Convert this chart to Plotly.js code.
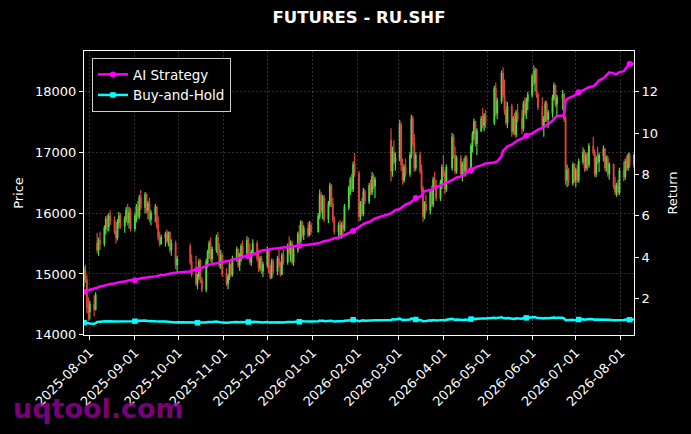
<!DOCTYPE html>
<html>
<head>
<meta charset="utf-8">
<script src="https://cdn.plot.ly/plotly-3.0.1.min.js"></script>
<style>html,body{margin:0;padding:0;background:#000;}#chart{width:691px;height:434px;}</style>
</head>
<body>
<div id="chart"></div>
<script>
const dates = [
'2025-07-28','2025-07-29','2025-07-30','2025-07-31',
'2025-08-01','2025-08-04','2025-08-05','2025-08-06','2025-08-07','2025-08-08','2025-08-11','2025-08-12','2025-08-13','2025-08-14','2025-08-15','2025-08-18','2025-08-19','2025-08-20','2025-08-21','2025-08-22','2025-08-25','2025-08-26','2025-08-27','2025-08-28','2025-08-29',
'2025-09-01','2025-09-02','2025-09-03','2025-09-04','2025-09-05','2025-09-08','2025-09-09','2025-09-10','2025-09-11','2025-09-12','2025-09-15','2025-09-16','2025-09-17','2025-09-18','2025-09-19','2025-09-22','2025-09-23','2025-09-24','2025-09-25','2025-09-26','2025-09-29','2025-09-30',
'2025-10-09','2025-10-10','2025-10-13','2025-10-14','2025-10-15','2025-10-16','2025-10-17','2025-10-20','2025-10-21','2025-10-22','2025-10-23','2025-10-24','2025-10-27','2025-10-28','2025-10-29','2025-10-30','2025-10-31',
'2025-11-03','2025-11-04','2025-11-05','2025-11-06','2025-11-07','2025-11-10','2025-11-11','2025-11-12','2025-11-13','2025-11-14','2025-11-17','2025-11-18','2025-11-19','2025-11-20','2025-11-21','2025-11-24','2025-11-25','2025-11-26','2025-11-27','2025-11-28',
'2025-12-01','2025-12-02','2025-12-03','2025-12-04','2025-12-05','2025-12-08','2025-12-09','2025-12-10','2025-12-11','2025-12-12','2025-12-15','2025-12-16','2025-12-17','2025-12-18','2025-12-19','2025-12-22','2025-12-23','2025-12-24','2025-12-25','2025-12-26','2025-12-29','2025-12-30','2025-12-31',
'2026-01-05','2026-01-06','2026-01-07','2026-01-08','2026-01-09','2026-01-12','2026-01-13','2026-01-14','2026-01-15','2026-01-16','2026-01-19','2026-01-20','2026-01-21','2026-01-22','2026-01-23','2026-01-26','2026-01-27','2026-01-28','2026-01-29','2026-01-30',
'2026-02-02','2026-02-03','2026-02-04','2026-02-05','2026-02-06','2026-02-09','2026-02-10','2026-02-11','2026-02-12','2026-02-13','2026-02-24','2026-02-25','2026-02-26','2026-02-27',
'2026-03-02','2026-03-03','2026-03-04','2026-03-05','2026-03-06','2026-03-09','2026-03-10','2026-03-11','2026-03-12','2026-03-13','2026-03-16','2026-03-17','2026-03-18','2026-03-19','2026-03-20','2026-03-23','2026-03-24','2026-03-25','2026-03-26','2026-03-27','2026-03-30','2026-03-31',
'2026-04-01','2026-04-02','2026-04-03','2026-04-07','2026-04-08','2026-04-09','2026-04-10','2026-04-13','2026-04-14','2026-04-15','2026-04-16','2026-04-17','2026-04-20','2026-04-21','2026-04-22','2026-04-23','2026-04-24','2026-04-27','2026-04-28','2026-04-29','2026-04-30',
'2026-05-06','2026-05-07','2026-05-08','2026-05-11','2026-05-12','2026-05-13','2026-05-14','2026-05-15','2026-05-18','2026-05-19','2026-05-20','2026-05-21','2026-05-22','2026-05-25','2026-05-26','2026-05-27','2026-05-28','2026-05-29',
'2026-06-01','2026-06-02','2026-06-03','2026-06-04','2026-06-05','2026-06-08','2026-06-09','2026-06-10','2026-06-11','2026-06-12','2026-06-15','2026-06-16','2026-06-17','2026-06-18','2026-06-22','2026-06-23','2026-06-24','2026-06-25','2026-06-26','2026-06-29','2026-06-30',
'2026-07-01','2026-07-02','2026-07-03','2026-07-06','2026-07-07','2026-07-08','2026-07-09','2026-07-10','2026-07-13','2026-07-14','2026-07-15','2026-07-16','2026-07-17','2026-07-20','2026-07-21','2026-07-22','2026-07-23','2026-07-24','2026-07-27','2026-07-28','2026-07-29','2026-07-30','2026-07-31',
'2026-08-03','2026-08-04','2026-08-05','2026-08-06','2026-08-07','2026-08-10'
];

const openPrice = [
14900,15050,14900,14450,
14380,14500,14420,15500,15400,15550,15500,15750,15900,15780,15950,15880,15700,15600,15850,15950,15800,15900,16050,15850,16000,
15750,15950,16100,15950,16250,16100,16300,16050,16150,15900,16000,16100,15800,15600,15500,15600,15650,15550,15680,15400,15500,15150,
15450,15200,15000,14850,14950,15200,14900,14750,15200,15350,15500,15250,15400,15600,15350,15150,15300,
15000,14850,14950,15150,15000,15250,15400,15150,15300,15450,15300,15550,15350,15200,15350,15500,15250,15100,15250,15050,
15150,15400,15050,14950,15200,15050,15250,15150,15000,15300,15200,15450,15350,15500,15200,15400,15650,15550,15850,15650,15750,15650,15800,
15700,15950,16300,16050,16250,15900,16150,16450,16150,15900,15700,15800,15650,15800,15750,16100,16400,16550,16400,16800,
16650,15950,16150,16000,16350,16200,16450,16350,16600,16450,17200,16700,17000,16850,
16900,17450,16800,16550,16750,16650,16950,17550,17150,16750,16950,16700,16400,15950,16150,16050,16350,16150,16550,16450,16250,16500,
16750,16650,16400,16750,17250,16950,16700,16900,16650,16800,16700,16900,16700,17100,17300,17500,17150,17350,17550,17450,17600,
17500,18050,17650,17850,18300,17950,17700,17500,17750,17350,17550,17300,17650,17550,17400,17800,17650,17850,
17950,18250,18150,18350,17950,17750,17450,17550,17800,17550,17650,17900,18100,17800,17900,17950,17550,16550,16700,16500,16800,
16550,16700,16550,16850,17000,16750,16950,16800,17100,17000,16650,16900,16850,16950,17050,16750,16900,16650,16800,16450,16350,16450,16350,
16700,16600,16850,16750,16950,16800
];

const highPrice = [
15120,15150,14980,14620,
14560,14650,14700,15680,15600,15700,15800,15950,15980,16000,16050,15950,15850,15900,16020,16000,15950,16100,16150,16100,16080,
16000,16150,16200,16300,16380,16350,16330,16200,16250,16050,16150,16120,15950,15700,15650,15700,15730,15700,15700,15570,15550,15300,
15500,15320,15300,15000,15250,15240,14950,15250,15400,15550,15600,15450,15650,15690,15500,15400,15350,
15100,15000,15190,15200,15300,15450,15420,15350,15500,15550,15620,15600,15500,15400,15570,15550,15400,15300,15300,15200,
15450,15420,15150,15250,15250,15300,15400,15200,15350,15400,15500,15620,15550,15550,15450,15700,15800,15890,15870,15800,15850,15870,15850,
16000,16390,16350,16300,16300,16200,16500,16480,16250,15950,15850,15890,15850,15880,16150,16450,16600,16650,16850,16990,
16700,16200,16250,16420,16400,16500,16550,16680,16650,16600,17400,17100,17200,17000,
17540,17500,16900,16800,16900,17000,17620,17600,17300,17000,17010,16800,16450,16200,16300,16400,16450,16600,16680,16550,16550,16800,
16960,16700,16800,17320,17300,17100,16950,16960,16850,16900,16950,16950,17150,17350,17560,17520,17400,17600,17730,17650,17700,
18100,18150,17900,18350,18400,18200,17850,17830,17800,17600,17650,17700,17800,17700,17850,17910,17900,18000,
18300,18440,18400,18380,18000,17910,17600,17850,17850,17700,17950,18150,18120,17950,18030,17980,17600,16800,16750,16840,16820,
16750,16800,16900,17080,17050,17000,17000,17150,17260,17050,16950,17100,17000,17120,17080,16950,16950,16840,16820,16600,16500,16550,16750,
16850,16900,16950,16990,17000,16980
];

const lowPrice = [
14780,14850,14350,14230,
14250,14300,14400,15340,15300,15400,15450,15650,15700,15700,15800,15650,15500,15550,15750,15750,15680,15850,15800,15750,15700,
15700,15850,15900,15900,16050,16000,16000,15900,15850,15800,15850,15750,15550,15450,15480,15450,15500,15450,15350,15300,15080,15000,
15150,14950,14800,14750,14900,14850,14700,14700,15100,15250,15200,15150,15350,15300,15100,15080,14950,
14800,14750,14900,14950,14960,15200,15100,15050,15200,15250,15250,15300,15150,15130,15300,15200,15030,15050,15000,14950,
15100,15000,14910,14920,15000,14980,15100,14960,14980,15150,15150,15300,15200,15150,15130,15350,15500,15500,15600,15560,15600,15620,15650,
15680,15900,16000,15900,15850,15840,16100,16100,15850,15650,15570,15600,15580,15650,15700,16050,16300,16350,16350,16600,
15860,15880,15950,15950,16150,16150,16300,16300,16400,16250,16520,16600,16800,16700,
16850,16700,16470,16500,16600,16600,16900,17100,16680,16700,16650,16350,15860,15900,16000,15980,16100,16100,16400,16200,16200,16400,
16600,16310,16350,16700,16900,16640,16650,16600,16520,16650,16600,16650,16650,17000,17200,17100,16960,17340,17400,17350,17400,
17450,17600,17550,17800,17900,17620,17450,17400,17260,17300,17280,17240,17500,17300,17350,17600,17550,17700,
17900,18100,18000,17900,17700,17400,17260,17500,17500,17400,17570,17850,17750,17600,17700,17500,16470,16430,16450,16450,16500,
16430,16500,16500,16800,16680,16700,16700,16750,16950,16600,16590,16800,16680,16850,16700,16680,16600,16550,16400,16300,16270,16300,16300,
16520,16550,16700,16700,16750,16750
];

const closePrice = [
15050,14900,14450,14380,
14500,14420,14650,15400,15550,15500,15750,15900,15780,15950,15880,15700,15600,15850,15950,15800,15900,16050,15850,16000,15750,
15950,16100,15950,16250,16100,16300,16050,16150,15900,16000,16100,15800,15600,15500,15600,15650,15550,15680,15400,15500,15150,15250,
15200,15000,14850,14950,15200,14900,14750,15200,15350,15500,15250,15400,15600,15350,15150,15300,15000,
14850,14950,15150,15000,15250,15400,15150,15300,15450,15300,15550,15350,15200,15350,15500,15250,15100,15250,15050,15150,
15400,15050,14950,15200,15050,15250,15150,15000,15300,15200,15450,15350,15500,15200,15400,15650,15550,15850,15650,15750,15650,15800,15700,
15950,16300,16050,16250,15900,16150,16450,16150,15900,15700,15800,15650,15800,15750,16100,16400,16550,16400,16800,16650,
15950,16150,16000,16350,16200,16450,16350,16600,16450,16550,16700,17000,16850,16900,
17450,16800,16550,16750,16650,16950,17550,17150,16750,16950,16700,16400,15950,16150,16050,16350,16150,16550,16450,16250,16500,16750,
16650,16400,16750,17250,16950,16700,16900,16650,16800,16700,16900,16700,17100,17300,17500,17150,17350,17550,17450,17600,17500,
18050,17650,17850,18300,17950,17700,17500,17750,17350,17550,17300,17650,17550,17400,17800,17650,17850,17950,
18250,18150,18350,17950,17750,17450,17550,17800,17550,17650,17900,18100,17800,17900,17950,17550,16550,16700,16500,16800,16550,
16700,16550,16850,17000,16750,16950,16800,17100,17000,16650,16900,16850,16950,17050,16750,16900,16650,16800,16450,16350,16450,16350,16700,
16600,16850,16750,16950,16800,16950
];

const aiReturn = [
2.32,2.33,2.36,2.40,
2.42,2.45,2.47,2.52,2.55,2.58,2.62,2.64,2.66,2.68,2.70,2.72,2.74,2.76,2.78,2.80,2.82,2.84,2.85,2.87,2.89,
2.88,2.92,2.94,2.96,2.98,3.00,3.01,3.03,3.04,3.05,3.07,3.08,3.10,3.12,3.13,3.15,3.17,3.18,3.20,3.22,3.24,3.26,
3.30,3.34,3.40,3.40,3.44,3.46,3.48,3.58,3.62,3.63,3.65,3.66,3.68,3.70,3.72,3.74,3.76,
3.78,3.80,3.82,3.85,3.87,3.90,3.93,3.96,3.98,4.00,4.04,4.06,4.09,4.12,4.15,4.20,4.24,4.27,4.30,4.33,
4.36,4.38,4.39,4.40,4.41,4.43,4.44,4.45,4.46,4.47,4.48,4.49,4.50,4.51,4.52,4.54,4.55,4.57,4.58,4.59,4.60,4.61,4.62,
4.65,4.68,4.71,4.74,4.77,4.80,4.83,4.86,4.89,4.92,4.95,4.98,5.02,5.05,5.08,5.14,5.18,5.22,5.26,5.32,
5.45,5.50,5.55,5.60,5.64,5.70,5.74,5.79,5.83,5.87,6.12,6.18,6.23,6.28,
6.33,6.38,6.44,6.50,6.55,6.62,6.68,6.74,6.80,6.86,6.92,6.98,7.15,7.18,7.21,7.25,7.28,7.32,7.36,7.40,7.45,7.50,
7.54,7.57,7.60,7.70,7.76,7.82,7.86,7.90,7.95,8.00,8.05,8.10,8.22,8.26,8.30,8.34,8.38,8.44,8.47,8.50,8.53,
8.58,8.61,8.63,8.90,9.15,9.22,9.30,9.36,9.44,9.50,9.55,9.60,9.66,9.74,9.78,9.83,9.88,9.93,
9.98,10.03,10.08,10.13,10.17,10.25,10.30,10.36,10.42,10.48,10.60,10.70,10.78,10.83,10.86,10.90,11.60,11.66,11.70,11.78,11.83,
11.87,11.92,11.98,12.08,12.12,12.16,12.20,12.23,12.27,12.32,12.40,12.48,12.56,12.66,12.74,12.82,12.90,12.95,12.90,12.86,12.87,12.92,12.96,
13.00,13.10,13.22,13.30,13.35,13.38
];

const bhReturn = [
0.83,0.82,0.78,0.78,
0.79,0.78,0.80,0.86,0.87,0.87,0.89,0.90,0.89,0.90,0.90,0.88,0.88,0.90,0.90,0.89,0.90,0.91,0.90,0.91,0.89,
0.90,0.92,0.90,0.93,0.92,0.93,0.91,0.92,0.90,0.91,0.92,0.89,0.88,0.87,0.88,0.88,0.87,0.88,0.86,0.87,0.84,0.85,
0.84,0.83,0.82,0.82,0.84,0.82,0.81,0.84,0.86,0.87,0.85,0.86,0.88,0.86,0.84,0.85,0.83,
0.82,0.82,0.84,0.83,0.85,0.86,0.84,0.85,0.86,0.85,0.87,0.86,0.84,0.86,0.87,0.85,0.84,0.85,0.83,0.84,
0.86,0.83,0.82,0.84,0.83,0.85,0.84,0.83,0.85,0.84,0.86,0.86,0.87,0.84,0.86,0.88,0.87,0.90,0.88,0.89,0.88,0.89,0.88,
0.90,0.93,0.91,0.93,0.90,0.92,0.94,0.92,0.90,0.88,0.89,0.88,0.89,0.89,0.92,0.94,0.95,0.94,0.97,0.96,
0.90,0.92,0.91,0.94,0.92,0.94,0.94,0.96,0.94,0.95,0.96,0.99,0.98,0.98,
1.02,0.97,0.95,0.97,0.96,0.98,1.03,1.00,0.97,0.98,0.96,0.94,0.90,0.92,0.91,0.94,0.92,0.95,0.94,0.93,0.95,0.97,
0.96,0.94,0.97,1.01,0.98,0.96,0.98,0.96,0.97,0.96,0.98,0.96,1.00,1.01,1.03,1.00,1.02,1.03,1.02,1.04,1.03,
1.07,1.04,1.06,1.09,1.06,1.04,1.03,1.05,1.02,1.03,1.01,1.04,1.03,1.02,1.05,1.04,1.06,1.06,
1.09,1.08,1.10,1.06,1.05,1.02,1.03,1.05,1.03,1.04,1.06,1.08,1.05,1.06,1.06,1.03,0.95,0.96,0.95,0.97,0.95,
0.96,0.95,0.98,0.99,0.97,0.98,0.97,1.00,0.99,0.96,0.98,0.98,0.98,0.99,0.97,0.98,0.96,0.97,0.94,0.94,0.94,0.94,0.96,
0.96,0.98,0.97,0.98,0.97,0.98
];

const seriesNames = ['AI Strategy', 'Buy-and-Hold'];
const chartTitle = 'FUTURES - RU.SHF';
const watermark = 'uqtool.com';

const FONT = 'DejaVu Sans, Arial, sans-serif';
const markEvery = 25;
function markerColors(arr, col) {
  return arr.map((v, i) => (i % markEvery === 0 ? col : 'rgba(0,0,0,0)'));
}

const traces = [
  {
    type: 'candlestick',
    x: dates, open: openPrice, high: highPrice, low: lowPrice, close: closePrice,
    xaxis: 'x', yaxis: 'y',
    increasing: { line: { color: '#5cff4a', width: 1.2 }, fillcolor: '#5cff4a' },
    decreasing: { line: { color: '#ff5048', width: 1.2 }, fillcolor: '#ff5048' },
    whiskerwidth: 0,
    opacity: 0.85,
    showlegend: false,
    hoverinfo: 'skip'
  },
  {
    type: 'scatter', mode: 'lines+markers',
    x: dates, y: aiReturn, name: seriesNames[0],
    xaxis: 'x', yaxis: 'y2',
    line: { color: '#ff00ff', width: 2.5 },
    marker: { symbol: 'circle', size: 6, color: markerColors(aiReturn, '#ff00ff'), line: { width: 0 } },
    hoverinfo: 'skip'
  },
  {
    type: 'scatter', mode: 'lines+markers',
    x: dates, y: bhReturn, name: seriesNames[1],
    xaxis: 'x', yaxis: 'y2',
    line: { color: '#00ffff', width: 2.5 },
    marker: { symbol: 'square', size: 5.5, color: markerColors(bhReturn, '#00ffff'), line: { width: 0 } },
    hoverinfo: 'skip'
  }
];

const gridStyle = { showgrid: true, gridcolor: 'rgba(255,255,255,0.3)', griddash: '2px,2px', gridwidth: 0.6 };

const layout = {
  width: 691, height: 434,
  paper_bgcolor: '#000000', plot_bgcolor: '#000000',
  font: { family: FONT, color: '#ffffff', size: 13 },
  margin: { l: 84, r: 57, t: 51, b: 99, pad: 0 },
  showlegend: true,
  title: {
    text: '<b>' + chartTitle + '</b>',
    font: { family: FONT, size: 16.5, color: '#ffffff' },
    x: 0.5, xref: 'paper', xanchor: 'center',
    y: 1 - 17 / 434, yref: 'container', yanchor: 'middle'
  },
  xaxis: Object.assign({
    type: 'date',
    range: ['2025-07-28', '2026-08-10'],
    tick0: '2025-08-01', dtick: 'M1', tickformat: '%Y-%m-%d',
    tickangle: -45,
    ticks: 'outside', ticklen: 4, tickwidth: 1, tickcolor: '#ffffff',
    tickfont: { family: FONT, size: 13, color: '#ffffff' },
    showline: true, linecolor: '#ffffff', linewidth: 1, mirror: true,
    zeroline: false,
    rangeslider: { visible: false },
    automargin: false
  }, gridStyle),
  yaxis: Object.assign({
    range: [13995, 18670],
    tick0: 14000, dtick: 1000, tickformat: 'd',
    ticks: 'outside', ticklen: 4, tickwidth: 1, tickcolor: '#ffffff',
    tickfont: { family: FONT, size: 13, color: '#ffffff' },
    showline: true, linecolor: '#ffffff', linewidth: 1,
    zeroline: false,
    title: { text: 'Price', font: { family: FONT, size: 13, color: '#ffffff' }, standoff: 8 },
    automargin: false
  }, gridStyle),
  yaxis2: {
    overlaying: 'y', side: 'right',
    range: [0.23, 13.98],
    tick0: 2, dtick: 2, tickformat: 'd',
    ticks: 'outside', ticklen: 4, tickwidth: 1, tickcolor: '#ffffff',
    tickfont: { family: FONT, size: 13, color: '#ffffff' },
    showline: true, linecolor: '#ffffff', linewidth: 1,
    showgrid: false, zeroline: false,
    title: { text: 'Return', font: { family: FONT, size: 13, color: '#ffffff' }, standoff: 10 },
    automargin: false
  },
  legend: {
    x: 0.0145, y: 0.975, xanchor: 'left', yanchor: 'top',
    bgcolor: '#000000', bordercolor: '#cccccc', borderwidth: 1,
    font: { family: FONT, size: 13.5, color: '#ffffff' },
    itemwidth: 30, tracegroupgap: 0
  },
  annotations: [{
    text: '<b>' + watermark + '</b>',
    xref: 'paper', yref: 'paper',
    x: (11 - 84) / 550, xanchor: 'left',
    y: 1 - (408 - 51) / 283.5, yanchor: 'middle',
    showarrow: false,
    font: { family: FONT, size: 27, color: 'rgba(150,0,150,0.82)' }
  }]
};

Plotly.newPlot('chart', traces, layout, { displayModeBar: false, staticPlot: true });
</script>
</body>
</html>
